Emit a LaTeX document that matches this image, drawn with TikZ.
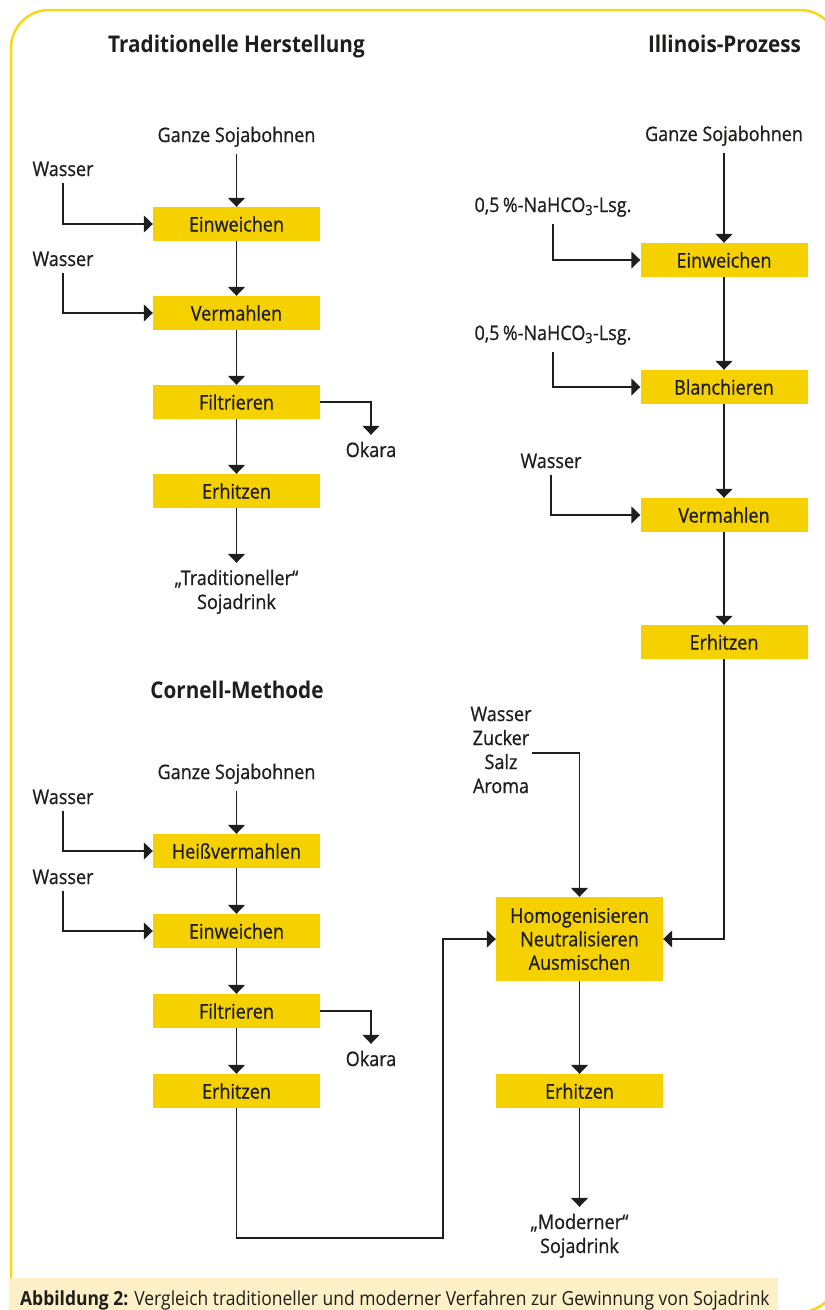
\documentclass[tikz,border=0pt]{standalone}
\usepackage{fontspec}
\setmainfont{Open Sans}[FakeStretch=0.9]
\newfontfamily\labelfont{Open Sans}[FakeStretch=0.9, FakeBold=0.8]
\usetikzlibrary{arrows.meta}
\definecolor{soyyellow}{HTML}{F5D100}
\definecolor{framey}{HTML}{FAD619}
\definecolor{capbg}{HTML}{FDF0C6}
\definecolor{ink}{HTML}{1E1E1C}
\tikzset{
  x=1pt, y=-1pt,
  stepbox/.style={fill=soyyellow, minimum width=167pt, minimum height=34pt,
    inner sep=0pt, text=ink, font=\labelfont\fontsize{20}{24}\selectfont,
    text height=15pt, text depth=0pt},
  lbl/.style={inner sep=0pt, outer ysep=7pt, text=ink, align=center,
    font=\labelfont\fontsize{20}{24}\selectfont, anchor=base},
  head/.style={inner sep=0pt, text=ink, anchor=base,
    font=\fontsize{23}{28}\selectfont\bfseries},
  flow/.style={draw=ink, line width=1.4pt,
    -{Triangle[width=17pt,length=9pt]}},
}
\begin{document}
\begin{tikzpicture}
\useasboundingbox (0,0) rectangle (825,1310);
% outer frame
\begin{scope}
  \clip (0,0) rectangle (825,1310);
  \draw[framey, line width=2.5pt, rounded corners=38pt] (11,10) rectangle (838,1312);
\end{scope}
% caption bar
\fill[capbg] (9,1278) rectangle (778,1310);
\node[anchor=base west, inner sep=0pt, text=ink, font=\fontsize{19.4}{23}\selectfont]
  (cap) at (20,1305) {\textbf{Abbildung 2:} Vergleich traditioneller und moderner Verfahren zur Gewinnung von Sojadrink};

% headings
\node[head] (hT) at (236.5,52) {Traditionelle Herstellung};
\node[head] (hI) at (724.5,52) {Illinois-Prozess};
\node[head] (hC) at (237,698) {Cornell-Methode};

% ---- traditional process ----
\node[lbl] (gT) at (236.5,142) {Ganze Sojabohnen};
\node[lbl] (wT1) at (63,176) {Wasser};
\node[lbl] (wT2) at (63,266) {Wasser};
\node[stepbox] (einT) at (236.5,224) {Einweichen};
\node[stepbox] (verT) at (236.5,313) {Vermahlen};
\node[stepbox] (filT) at (236.5,402) {Filtrieren};
\node[stepbox] (erhT) at (236.5,491) {Erhitzen};
\node[lbl] (okT) at (371,457) {Okara};
\node[lbl] (endT) at (236.5,609) {„Traditioneller“\\Sojadrink};
\draw[flow] (gT) -- (einT);
\draw[flow] (wT1.south) |- (einT.west);
\draw[flow] (einT) -- (verT);
\draw[flow] (wT2.south) |- (verT.west);
\draw[flow] (verT) -- (filT);
\draw[flow] (filT.east) -| (okT.north);
\draw[flow] (filT) -- (erhT);
\draw[flow] (erhT) -- (endT);

% ---- Illinois process ----
\node[lbl] (gI) at (724,141) {Ganze Sojabohnen};
\node[lbl] (nI1) at (553,212) {0,5\,\%-NaHCO\textsubscript{3}-Lsg.};
\node[lbl] (nI2) at (553,340) {0,5\,\%-NaHCO\textsubscript{3}-Lsg.};
\node[lbl] (wI) at (551,468) {Wasser};
\node[stepbox] (einI) at (724,260) {Einweichen};
\node[stepbox] (blaI) at (724,387) {Blanchieren};
\node[stepbox] (verI) at (724,515) {Vermahlen};
\node[stepbox] (erhI) at (724,642) {Erhitzen};
\draw[flow] (gI) -- (einI);
\draw[flow] (nI1.south) |- (einI.west);
\draw[flow] (einI) -- (blaI);
\draw[flow] (nI2.south) |- (blaI.west);
\draw[flow] (blaI) -- (verI);
\draw[flow] (wI.south) |- (verI.west);
\draw[flow] (verI) -- (erhI);

% ---- Cornell method ----
\node[lbl] (gC) at (236.5,779) {Ganze Sojabohnen};
\node[lbl] (wC1) at (63,804) {Wasser};
\node[lbl] (wC2) at (63,884) {Wasser};
\node[stepbox] (hvC) at (236.5,851) {Heißvermahlen};
\node[stepbox] (einC) at (236.5,931) {Einweichen};
\node[stepbox] (filC) at (236.5,1011) {Filtrieren};
\node[stepbox] (erhC) at (236.5,1091) {Erhitzen};
\node[lbl] (okC) at (371,1066) {Okara};
\draw[flow] (gC) -- (hvC);
\draw[flow] (wC1.south) |- (hvC.west);
\draw[flow] (hvC) -- (einC);
\draw[flow] (wC2.south) |- (einC.west);
\draw[flow] (einC) -- (filC);
\draw[flow] (filC.east) -| (okC.north);
\draw[flow] (filC) -- (erhC);

% ---- common finishing ----
\node[stepbox, minimum height=84pt, text height=, text depth=, align=center,
  font=\labelfont\fontsize{20}{23.5}\selectfont] (hom) at (579.5,939)
  {Homogenisieren\\Neutralisieren\\Ausmischen};
\node[lbl, anchor=center] (add) at (501,750)
  {Wasser\\Zucker\\Salz\\Aroma};
\node[stepbox] (erhM) at (579.5,1091) {Erhitzen};
\node[lbl] (endM) at (579.5,1253) {„Moderner“\\Sojadrink};
\coordinate (loop) at (443,1238);
\draw[flow] ([yshift=-3pt]add.east) -| (hom.north);
\draw[flow] (erhI.south) |- (hom.east);
\draw[flow] (erhC.south) |- (loop) |- (hom.west);
\draw[flow] (hom) -- (erhM);
\draw[flow] (erhM) -- (endM);
\end{tikzpicture}
\end{document}
